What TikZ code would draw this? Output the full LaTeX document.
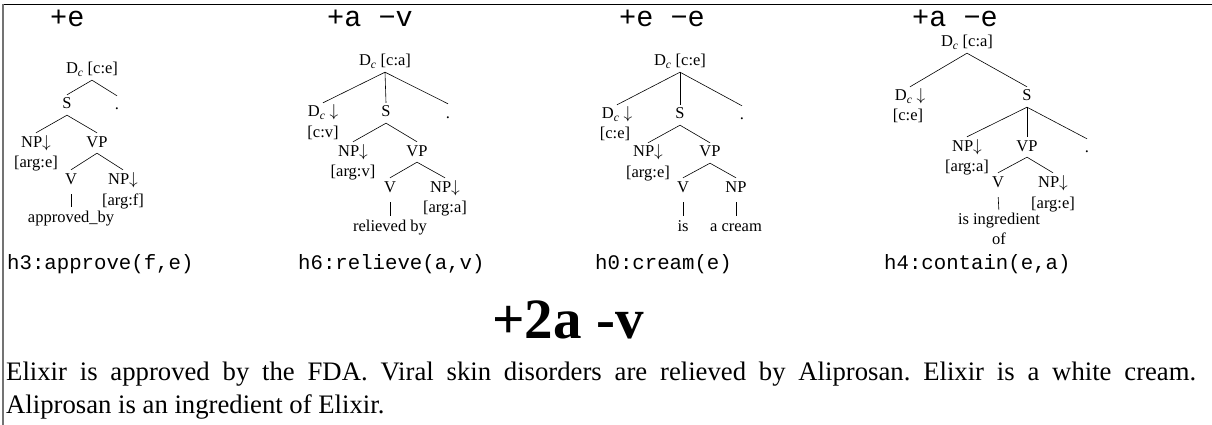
\documentclass[tikz,border=0pt]{standalone}
\usepackage{fontspec}
\setmainfont{Liberation Serif}
\setmonofont{Liberation Mono}
\frenchspacing
\begin{document}
\begin{tikzpicture}[x=1pt,y=-1pt,
  lab/.style={font=\fontsize{16.5}{19}\selectfont, inner xsep=0pt, inner ysep=3pt, text height=11pt, text depth=3pt},
  edge/.style={line width=0.6pt},
  bar/.style={line width=0.6pt, shorten <=4pt, shorten >=1pt},
  hd/.style={font=\fontsize{28.5}{30}\selectfont\ttfamily, anchor=base west, inner sep=0pt},
  sem/.style={font=\fontsize{20.7}{23}\selectfont\ttfamily, anchor=base west, inner sep=0pt},
  body/.style={font=\fontsize{26.7}{33}\selectfont, anchor=base west, inner sep=0pt},
  big/.style={font=\fontsize{57}{60}\selectfont\bfseries, anchor=base, inner sep=0pt},
]
\useasboundingbox (0,0) rectangle (1212,425);
\draw[line width=1.5pt] (2,4.5) -- (1212,4.5);
\draw[line width=1.4pt, black!55] (3,4) -- (3,425);

% ---------- tree 1 ----------
\node[hd] (t1) at (50,27) {+e};
\node[lab] (r1) at (92,70) {D\textsubscript{\textit{c}} [c:e]};
\node[lab] (s1) at (67,105) {S};
\node[lab] (d1) at (117,106) {.};
\node[lab] (np1) at (36,143) {NP$\downarrow$};
\node[lab] (vp1) at (97,143) {VP};
\node[lab] (a1) at (36,163) {[arg:e]};
\node[lab] (v1) at (71,180) {V};
\node[lab] (n1) at (123,180) {NP$\downarrow$};
\node[lab] (f1) at (123,201) {[arg:f]};
\node[lab] (w1) at (71,218) {approved\_by};
\draw[edge] (r1.south) -- (s1.north);
\draw[edge] (r1.south) -- (d1.north);
\draw[edge] (s1.south) -- (np1.north);
\draw[edge] (s1.south) -- (vp1.north);
\draw[edge] (vp1.south) -- (v1.north);
\draw[edge] (vp1.south) -- (n1.north);
\draw[bar] (v1.south) -- (w1.north);
\node[sem] (h1) at (7,269) {h3:approve(f,e)};

% ---------- tree 2 ----------
\node[hd] (t2) at (327,27) {+a −v};
\node[lab] (r2) at (385,62) {D\textsubscript{\textit{c}} [c:a]};
\node[lab] (l2) at (323,113) {D\textsubscript{\textit{c}} $\downarrow$};
\node[lab] (s2) at (386,113) {S};
\node[lab] (d2) at (448,114) {.};
\node[lab] (c2) at (323,133) {[c:v]};
\node[lab] (np2) at (353,152) {NP$\downarrow$};
\node[lab] (vp2) at (417,152) {VP};
\node[lab] (a2) at (353,172) {[arg:v]};
\node[lab] (v2) at (390,188) {V};
\node[lab] (n2) at (445,188) {NP$\downarrow$};
\node[lab] (f2) at (445,208) {[arg:a]};
\node[lab] (w2) at (390,227) {relieved by};
\draw[edge] (r2.south) -- (l2.north);
\draw[edge] (r2.south) -- (s2.north);
\draw[edge] (r2.south) -- (d2.north);
\draw[edge] (s2.south) -- (np2.north);
\draw[edge] (s2.south) -- (vp2.north);
\draw[edge] (vp2.south) -- (v2.north);
\draw[edge] (vp2.south) -- (n2.north);
\draw[bar] (v2.south) -- (w2.north);
\node[sem] (h2) at (298,269) {h6:relieve(a,v)};

% ---------- tree 3 ----------
\node[hd] (t3) at (619,27) {+e −e};
\node[lab] (r3) at (680,62) {D\textsubscript{\textit{c}} [c:e]};
\node[lab] (l3) at (617,115) {D\textsubscript{\textit{c}} $\downarrow$};
\node[lab] (s3) at (680,115) {S};
\node[lab] (d3) at (742,116) {.};
\node[lab] (c3) at (615,135) {[c:e]};
\node[lab] (np3) at (648,153) {NP$\downarrow$};
\node[lab] (vp3) at (710,153) {VP};
\node[lab] (a3) at (648,173) {[arg:e]};
\node[lab] (v3) at (683,188) {V};
\node[lab] (n3) at (736,188) {NP};
\node[lab] (w3) at (683,227) {is};
\node[lab] (x3) at (736,227) {a cream};
\draw[edge] (r3.south) -- (l3.north);
\draw[edge] (r3.south) -- (s3.north);
\draw[edge] (r3.south) -- (d3.north);
\draw[edge] (s3.south) -- (np3.north);
\draw[edge] (s3.south) -- (vp3.north);
\draw[edge] (vp3.south) -- (v3.north);
\draw[edge] (vp3.south) -- (n3.north);
\draw[bar] (v3.south) -- (w3.north);
\draw[bar] (n3.south) -- (x3.north);
\node[sem] (h3) at (595,269) {h0:cream(e)};

% ---------- tree 4 ----------
\node[hd] (t4) at (912,27) {+a −e};
\node[lab] (r4) at (967,43) {D\textsubscript{\textit{c}} [c:a]};
\node[lab] (l4) at (910,97) {D\textsubscript{\textit{c}} $\downarrow$};
\node[lab] (s4) at (1027,97) {S};
\node[lab] (c4) at (908,117) {[c:e]};
\node[lab] (np4) at (967,147) {NP$\downarrow$};
\node[lab] (vp4) at (1027,147) {VP};
\node[lab] (d4) at (1087,149) {.};
\node[lab] (a4) at (967,167) {[arg:a]};
\node[lab] (v4) at (998,183) {V};
\node[lab] (n4) at (1053,183) {NP$\downarrow$};
\node[lab] (f4) at (1053,204) {[arg:e]};
\node[lab, text height=, text depth=, font=\fontsize{16.5}{20}\selectfont, align=center, anchor=north, inner ysep=0pt] (w4) at (999,213) {is ingredient\\of};
\draw[edge] (r4.south) -- (l4.north);
\draw[edge] (r4.south) -- (s4.north);
\draw[edge] (s4.south) -- (np4.north);
\draw[edge] (s4.south) -- (vp4.north);
\draw[edge] (s4.south) -- (d4.north);
\draw[edge] (vp4.south) -- (v4.north);
\draw[edge] (vp4.south) -- (n4.north);
\draw[bar, shorten <=4pt, shorten >=3pt] (v4.south) -- (w4.north);
\node[sem] (h4) at (884,269) {h4:contain(e,a)};

% ---------- bottom ----------
\node[big] (score) at (568,338) {+2a -v};
\node[body] (p1) at (6,380) {\makebox[1190pt][s]{Elixir is approved by the FDA. Viral skin disorders are relieved by Aliprosan. Elixir is a white cream.}};
\node[body] (p2) at (6,413) {Aliprosan is an ingredient of Elixir.};
\end{tikzpicture}
\end{document}
